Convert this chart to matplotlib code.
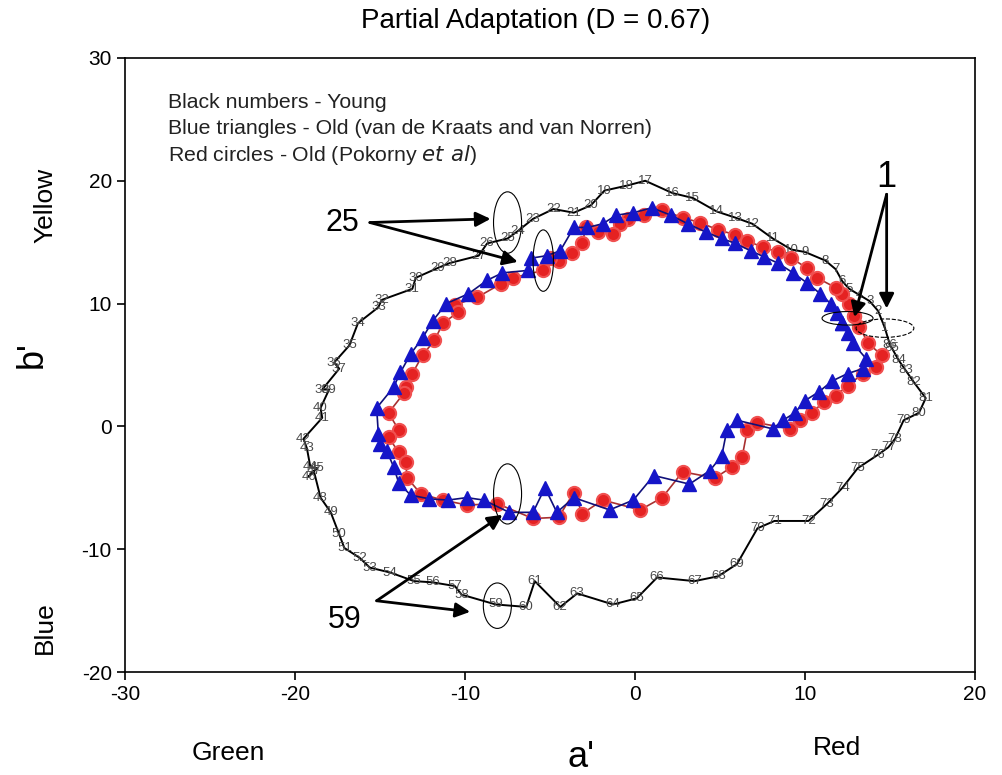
import matplotlib
matplotlib.use("Agg")
import matplotlib.pyplot as plt
from matplotlib.patches import Ellipse

plt.rcParams['font.family'] = ['Liberation Sans', 'DejaVu Sans']
plt.rcParams['axes.unicode_minus'] = False

# Young observers (black numbered curve), points 1..86
young_a = [14.7, 14.3, 13.8, 13.2, 12.6, 12.2, 11.8, 11.2, 10.0, 9.2,
           8.1, 6.9, 5.9, 4.8, 3.4, 2.2, 0.6, -0.5, -1.8, -2.6,
           -3.6, -4.8, -6.0, -6.9, -7.5, -8.7, -9.2, -10.9, -11.6, -12.9,
           -13.1, -14.9, -15.1, -16.3, -16.8, -17.7, -17.4, -18.4, -18.0, -18.5,
           -18.4, -19.5, -19.3, -19.1, -18.7, -19.2, -18.9, -18.5, -17.9, -17.4,
           -17.1, -16.2, -15.6, -14.4, -13.0, -11.9, -10.6, -10.2, -8.2, -6.4,
           -5.9, -4.4, -3.4, -1.3, 0.1, 1.3, 3.5, 4.9, 6.0, 7.2,
           8.2, 10.2, 11.3, 12.2, 13.1, 14.3, 14.9, 15.3, 15.8, 16.7,
           17.1, 16.4, 15.9, 15.5, 15.1, 15.0]
young_b = [8.0, 9.4, 10.2, 10.7, 11.2, 11.8, 12.8, 13.5, 14.2, 14.4,
           15.3, 16.5, 17.0, 17.5, 18.6, 19.0, 20.0, 19.6, 19.2, 18.0,
           17.4, 17.7, 16.9, 15.9, 15.3, 14.9, 13.9, 13.3, 12.9, 12.1,
           11.2, 10.3, 9.7, 8.4, 6.6, 5.2, 4.7, 3.0, 3.0, 1.5,
           0.7, -1.0, -1.8, -3.3, -3.4, -4.1, -3.6, -5.8, -7.0, -8.8,
           -9.9, -10.7, -11.5, -11.9, -12.6, -12.7, -13.0, -13.7, -14.5, -14.7,
           -12.6, -14.7, -13.6, -14.5, -14.0, -12.3, -12.6, -12.2, -11.2, -8.3,
           -7.7, -7.7, -6.3, -5.0, -3.4, -2.3, -1.7, -1.0, 0.5, 1.1,
           2.3, 3.6, 4.6, 5.4, 6.4, 6.6]
young_labels = [str(i) for i in range(1, 87)]

# Old - Pokorny et al (red circles)
red_a = [12.9, 12.6, 12.2, 11.8, 10.7, 10.1, 9.2, 8.4, 7.5, 6.6,
         5.9, 4.9, 3.8, 2.8, 1.6, 0.5, -0.4, -0.9, -1.3, -2.2,
         -2.9, -3.1, -3.7, -4.5, -5.0, -5.4, -7.2, -7.9, -9.3, -10.6,
         -10.4, -11.3, -11.8, -12.5, -13.1, -13.5, -13.6, -14.5, -13.9, -14.5,
         -13.9, -13.5, -13.4, -12.6, -11.3, -9.9, -8.1, -6.0, -4.5, -3.6,
         -3.1, -1.9, 0.3, 1.6, 2.8, 4.7, 5.7, 6.3, 6.6, 7.2,
         9.1, 9.7, 10.4, 11.1, 11.8, 12.5, 13.4, 14.2, 14.5, 13.7,
         13.2]
red_b = [9.0, 10.0, 10.8, 11.3, 12.1, 12.9, 13.7, 14.2, 14.6, 15.1,
         15.6, 16.0, 16.6, 17.0, 17.6, 17.2, 16.9, 16.5, 15.7, 15.8,
         16.2, 14.9, 14.1, 13.5, 13.7, 12.7, 12.1, 11.6, 10.5, 9.9,
         9.3, 8.4, 7.0, 5.8, 4.3, 3.2, 2.7, 1.1, -0.3, -0.9,
         -2.1, -2.9, -4.2, -5.5, -6.0, -6.4, -6.3, -7.5, -7.4, -5.4,
         -7.1, -6.0, -6.8, -5.8, -3.7, -4.2, -3.3, -2.5, -0.3, 0.3,
         -0.2, 0.5, 1.1, 2.0, 2.5, 3.3, 4.3, 4.8, 5.8, 6.8,
         8.1]

# Old - van de Kraats and van Norren (blue triangles)
blue_a = [12.2, 11.9, 11.5, 10.9, 10.1, 9.3, 8.4, 7.6, 6.8, 5.9,
          5.1, 4.2, 3.1, 2.1, 1.0, -0.1, -1.1, -1.9, -2.8, -3.6,
          -4.4, -5.2, -6.1, -6.3, -7.8, -8.7, -9.8, -11.1, -11.9, -12.5,
          -13.2, -13.8, -14.2, -15.2, -15.1, -15.0, -14.6, -14.2, -13.9, -13.2,
          -12.1, -11.0, -9.9, -8.9, -7.4, -6.0, -5.3, -4.6, -3.6, -1.5,
          -0.1, 1.1, 3.2, 4.4, 5.1, 5.4, 6.0, 8.1, 8.7, 9.4,
          10.0, 10.8, 11.6, 12.5, 13.4, 13.6, 12.8, 12.5]
blue_b = [8.4, 9.2, 10.0, 10.8, 11.7, 12.5, 13.3, 13.8, 14.3, 14.9,
          15.3, 15.8, 16.5, 17.2, 17.8, 17.4, 17.2, 16.5, 16.2, 16.2,
          14.3, 13.9, 13.7, 12.7, 12.5, 11.9, 10.8, 10.0, 8.6, 7.2,
          5.9, 4.4, 3.2, 1.5, -0.6, -1.4, -2.0, -3.3, -4.6, -5.6,
          -5.9, -6.0, -5.8, -6.0, -7.0, -7.0, -5.0, -7.0, -5.8, -6.8,
          -6.0, -4.0, -4.7, -3.6, -2.4, -0.3, 0.5, -0.2, 0.5, 1.1,
          2.1, 2.8, 3.7, 4.3, 4.7, 5.5, 6.8, 7.6]

x_ticks = [-30, -20, -10, 0, 10, 20]
y_ticks = [-20, -10, 0, 10, 20, 30]
legend_lines = ["Black numbers - Young",
                "Blue triangles - Old (van de Kraats and van Norren)",
                r"Red circles - Old (Pokorny $\it{et\ al}$)"]

fig = plt.figure(figsize=(10.02, 7.75), dpi=100)
ax = fig.add_axes([0.1248, 0.1329, 0.8483, 0.7923])

ax.plot(young_a + [young_a[0]], young_b + [young_b[0]], color='black', lw=1.4, zorder=2)
for a, b, t in zip(young_a, young_b, young_labels):
    ax.text(a, b, t, fontsize=9.5, color='#4a4a4a', ha='center', va='center', zorder=3)

ax.plot(red_a + [red_a[0]], red_b + [red_b[0]], color='#A83030', lw=1.2,
        marker='o', markersize=9.5, markerfacecolor='#E52222',
        markeredgecolor='#F05050', markeredgewidth=1.5, zorder=4)
ax.plot(blue_a + [blue_a[0]], blue_b + [blue_b[0]], color='#10107A', lw=1.2,
        marker='^', markersize=10.5, markerfacecolor='#1515C8',
        markeredgecolor='#1515C8', zorder=5)

# ellipses
ell = [((-7.5, 16.6), 1.65, 5.0, '-'), ((-5.4, 13.5), 1.2, 5.0, '-'),
       ((12.5, 8.8), 3.0, 1.1, '-'), ((14.7, 8.0), 3.4, 1.5, '--'),
       ((-7.5, -5.5), 1.65, 4.9, '-'), ((-8.1, -14.6), 1.65, 3.7, '-')]
for c, w, h, ls in ell:
    ax.add_patch(Ellipse(c, w, h, fill=False, edgecolor='black', lw=0.8, ls=ls, zorder=6))

ap = dict(arrowstyle='-|>', color='black', lw=2, mutation_scale=22, shrinkA=0, shrinkB=0)
ax.text(-17.2, 16.6, "25", fontsize=22, ha='center', va='center')
ax.annotate("", xy=(-8.5, 16.9), xytext=(-15.6, 16.6), arrowprops=ap, zorder=7)
ax.annotate("", xy=(-6.9, 13.4), xytext=(-15.6, 16.6), arrowprops=ap, zorder=7)
ax.text(14.8, 20.3, "1", fontsize=26, ha='center', va='center')
ax.annotate("", xy=(12.9, 8.9), xytext=(14.8, 18.9), arrowprops=ap, zorder=7)
ax.annotate("", xy=(14.8, 9.6), xytext=(14.8, 18.9), arrowprops=ap, zorder=7)
ax.text(-17.1, -15.8, "59", fontsize=22, ha='center', va='center')
ax.annotate("", xy=(-7.8, -7.2), xytext=(-15.2, -14.2), arrowprops=ap, zorder=7)
ax.annotate("", xy=(-9.7, -15.1), xytext=(-15.2, -14.2), arrowprops=ap, zorder=7)

for i, line in enumerate(legend_lines):
    ax.text(-27.5, 26.4 - i * 2.15, line, fontsize=15.3, ha='left', va='center', color='#222222')

ax.set_xlim(-30, 20)
ax.set_ylim(-20, 30)
ax.set_xticks(x_ticks)
ax.set_yticks(y_ticks)
ax.tick_params(labelsize=15, direction='out', length=6, width=1.2, top=False, right=False)
for s in ax.spines.values():
    s.set_linewidth(1.2)

fig.text(0.535, 0.973, "Partial Adaptation (D = 0.67)", fontsize=20, ha='center', va='center')
fig.text(0.032, 0.542, "b'", fontsize=26, ha='center', va='center', rotation=90)
fig.text(0.045, 0.735, "Yellow", fontsize=19, ha='center', va='center', rotation=90)
fig.text(0.045, 0.19, "Blue", fontsize=19, ha='center', va='center', rotation=90)
fig.text(0.580, 0.022, "a'", fontsize=26, ha='center', va='center')
fig.text(0.2275, 0.028, "Green", fontsize=19, ha='center', va='center')
fig.text(0.835, 0.035, "Red", fontsize=19, ha='center', va='center')

fig.savefig("out.png", dpi=100)
